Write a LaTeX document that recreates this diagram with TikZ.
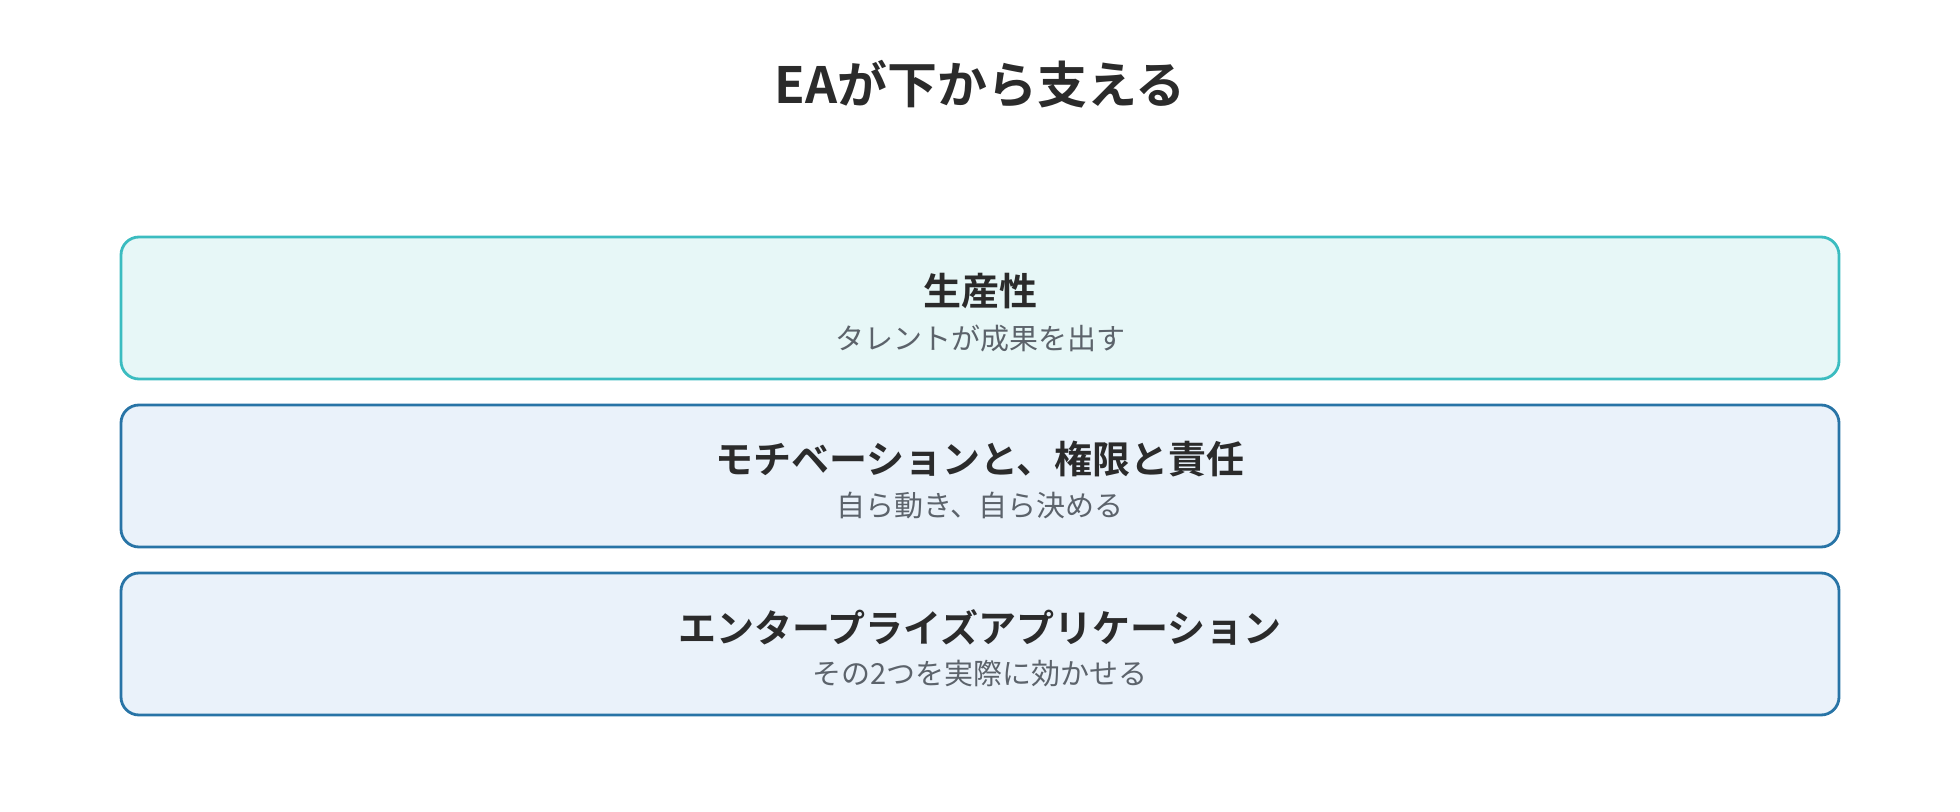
\documentclass[tikz,border=0pt]{standalone}
\usepackage{fontspec}
\setmainfont{Noto Sans CJK JP}[BoldFont={Noto Sans CJK JP Bold}]
\definecolor{tealline}{HTML}{3BBCC0}
\definecolor{tealfill}{HTML}{E7F7F7}
\definecolor{blueline}{HTML}{2874A6}
\definecolor{bluefill}{HTML}{EAF2FA}
\definecolor{inktext}{HTML}{2B2B2B}
\definecolor{subtext}{HTML}{5C636B}
\begin{document}
\begin{tikzpicture}[x=0.5pt,y=-0.5pt,
    layer/.style={draw, line width=1.4pt, rounded corners=9pt,
        minimum width=859pt, minimum height=71pt, inner sep=0pt},
    head/.style={font=\bfseries\fontsize{19}{21}\selectfont, text=inktext, inner sep=0pt},
    sub/.style={font=\fontsize{14.5}{16}\selectfont, text=subtext, inner sep=0pt}]
    \useasboundingbox (0,0) rectangle (1960,812);

    % heading
    \node[font=\bfseries\fontsize{25}{28}\selectfont, text=inktext, inner sep=0pt] (title) at (980,84) {EAが下から支える};

    % top layer
    \node[layer, draw=tealline, fill=tealfill] (prod) at (980,308) {};
    \node[head] (prodhead) at (980,291) {生産性};
    \node[sub] (prodsub) at (980,338) {タレントが成果を出す};

    % middle layer
    \node[layer, draw=blueline, fill=bluefill] (motiv) at (980,476) {};
    \node[head] (motivhead) at (980,459) {モチベーションと、権限と責任};
    \node[sub] (motivsub) at (980,506) {自ら動き、自ら決める};

    % bottom layer
    \node[layer, draw=blueline, fill=bluefill] (entapp) at (980,644) {};
    \node[head] (entapphead) at (980,627) {エンタープライズアプリケーション};
    \node[sub] (entappsub) at (980,674) {その2つを実際に効かせる};
\end{tikzpicture}
\end{document}
